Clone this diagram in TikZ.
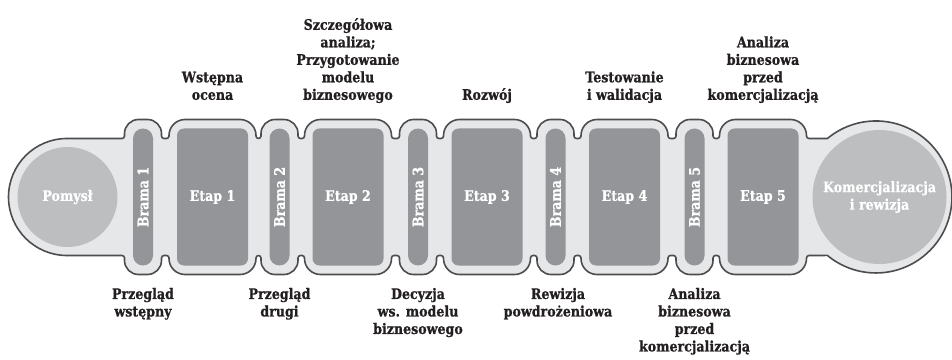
\documentclass[tikz,border=0pt]{standalone}
\usepackage{fontspec}
\setmainfont{DejaVu Serif}[FakeStretch=0.87, BoldFeatures={FakeBold=0.8}]
\definecolor{bodyfill}{HTML}{E6E7E8}
\definecolor{outlinec}{HTML}{4D4D4F}
\definecolor{circfill}{HTML}{BCBEC0}
\definecolor{boxfill}{HTML}{939598}
\definecolor{labtext}{HTML}{231F20}
\newcommand\labfont{\fontsize{14.5}{17.5}\selectfont\bfseries}
\tikzset{
  etapbox/.style={fill=boxfill, rounded corners=7pt, minimum width=71pt, minimum height=137pt, inner sep=0pt, text=white, font=\labfont},
  gatebox/.style={fill=boxfill, rounded corners=10pt, minimum width=137pt, minimum height=20pt, inner sep=0pt, rotate=90, text=white, font=\labfont},
  endcirc/.style={circle, fill=circfill, inner sep=0pt, text=white, font=\labfont, align=center},
  toplab/.style={anchor=south, align=center, inner sep=0pt, font=\labfont, text=labtext, execute at begin node=\strut, execute at end node=\strut},
  botlab/.style={anchor=north, align=center, inner sep=0pt, font=\labfont, text=labtext, execute at begin node=\strut, execute at end node=\strut},
  bodyline/.style={draw=outlinec, line width=1.6pt, fill=bodyfill, line join=round}
}
\begin{document}
\begin{tikzpicture}[x=1pt,y=1pt]
\useasboundingbox (0,0) rectangle (952,359);
% body outline
\path[bodyline] (67,220.5)
  \foreach \l/\r/\c in {124.5/161.5/14, 169/256/16, 261/298/14, 304.5/391.5/16, 399.5/436.5/14, 443.5/530.5/16, 537/574/14, 581/668/16, 676/713/14, 719.5/806.5/16}{
    -- (\l-2.5,220.5) arc[start angle=270,end angle=360,radius=2.5]
    -- (\l,239.5-\c) arc[start angle=180,end angle=90,radius=\c]
    -- (\r-\c,239.5) arc[start angle=90,end angle=0,radius=\c]
    -- (\r,223) arc[start angle=180,end angle=270,radius=2.5]
  }
  -- (827.4,220.5) arc[start angle=129.7,end angle=-129.7,radius=76]
  \foreach \l/\r/\c in {719.5/806.5/16, 676/713/14, 581/668/16, 537/574/14, 443.5/530.5/16, 399.5/436.5/14, 304.5/391.5/16, 261/298/14, 169/256/16, 124.5/161.5/14}{
    -- (\r+2.5,103.5) arc[start angle=90,end angle=180,radius=2.5]
    -- (\r,84.5+\c) arc[start angle=0,end angle=-90,radius=\c]
    -- (\l+\c,84.5) arc[start angle=270,end angle=180,radius=\c]
    -- (\l,101) arc[start angle=0,end angle=90,radius=2.5]
  }
  -- (67,103.5) arc[start angle=270,end angle=90,radius=58.5] -- cycle;
% end circles
\node[endcirc, minimum size=100pt] (idea) at (67.5,162) {Pomysł};
\node[endcirc, minimum size=134pt] (comm) at (879.5,162) {Komercjalizacja\\i rewizja};
% gates
\node[gatebox] (g1) at (143,162) {Brama 1};
\node[gatebox] (g2) at (279.5,162) {Brama 2};
\node[gatebox] (g3) at (418,162) {Brama 3};
\node[gatebox] (g4) at (555.5,162) {Brama 4};
\node[gatebox] (g5) at (694.5,162) {Brama 5};
% stages
\node[etapbox] (e1) at (212.5,162) {Etap 1};
\node[etapbox] (e2) at (348,162) {Etap 2};
\node[etapbox] (e3) at (487,162) {Etap 3};
\node[etapbox] (e4) at (624.5,162) {Etap 4};
\node[etapbox] (e5) at (763,162) {Etap 5};
% top labels
\node[toplab] (t1) at (212.5,253.75) {Wstępna\\ocena};
\node[toplab] (t2) at (348,253.75) {Szczegółowa\\analiza;\\Przygotowanie\\modelu\\biznesowego};
\node[toplab] (t3) at (487,253.75) {Rozwój};
\node[toplab] (t4) at (624.5,253.75) {Testowanie\\i walidacja};
\node[toplab] (t5) at (763,253.75) {Analiza\\biznesowa\\przed\\komercjalizacją};
% bottom labels
\node[botlab] (b1) at (143,71.25) {Przegląd\\wstępny};
\node[botlab] (b2) at (279.5,71.25) {Przegląd\\drugi};
\node[botlab] (b3) at (418,71.25) {Decyzja\\ws. modelu\\biznesowego};
\node[botlab] (b4) at (558,71.25) {Rewizja\\powdrożeniowa};
\node[botlab] (b5) at (694.5,71.25) {Analiza\\biznesowa\\przed\\komercjalizacją};
\end{tikzpicture}
\end{document}
